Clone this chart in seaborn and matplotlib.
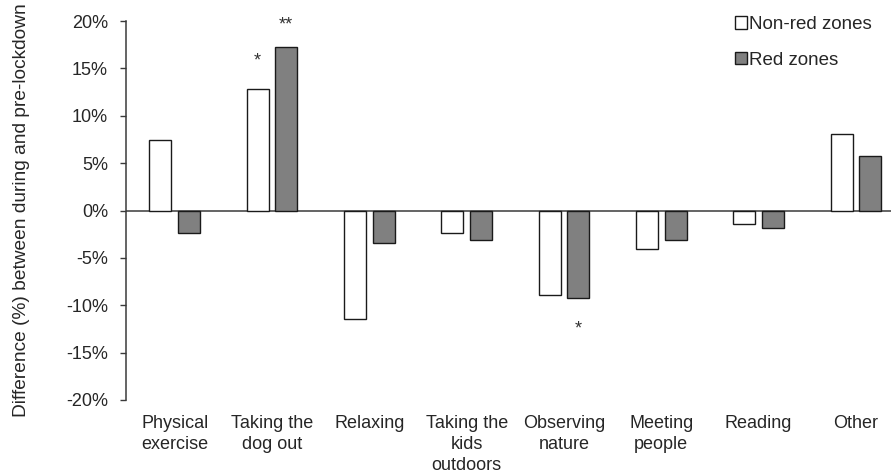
import matplotlib
matplotlib.use("Agg")
import matplotlib.pyplot as plt
import seaborn as sns
import pandas as pd
from matplotlib.patches import Patch
from matplotlib.ticker import FuncFormatter

categories = ["Physical\nexercise", "Taking the\ndog out", "Relaxing",
              "Taking the\nkids\noutdoors", "Observing\nnature", "Meeting\npeople",
              "Reading", "Other"]
non_red = [7.4, 12.8, -11.5, -2.4, -8.9, -4.1, -1.4, 8.1]
red = [-2.4, 17.3, -3.4, -3.1, -9.2, -3.1, -1.8, 5.8]
series_names = ["Non-red zones", "Red zones"]
# significance markers: (category index, series, label, distance from bar end in %)
stars = [(1, "Non-red zones", "*", 3.0), (1, "Red zones", "**", 2.3),
         (4, "Red zones", "*", 3.3)]

df = pd.DataFrame({
    "category": categories * 2,
    "zone": [series_names[0]] * len(categories) + [series_names[1]] * len(categories),
    "value": non_red + red,
})

sns.set_style("white")
plt.rcParams["font.family"] = ["Liberation Sans", "DejaVu Sans"]
text_color = "#262626"
fs = 13

fig = plt.figure(figsize=(8.91, 4.75), dpi=100)
ax = fig.add_axes([126 / 891, 75 / 475, 1 - 126 / 891, (400 - 21) / 475])

palette = {series_names[0]: "white", series_names[1]: "#808080"}
sns.barplot(data=df, x="category", y="value", hue="zone", palette=palette,
            width=0.588, gap=0.23, edgecolor="#1a1a1a", linewidth=1.0,
            legend=False, ax=ax, saturation=1)

ax.set_xlim(-0.5, 7.36)
ax.set_ylim(-20, 20)
ax.set_yticks(range(-20, 21, 5))
ax.yaxis.set_major_formatter(FuncFormatter(lambda v, p: f"{int(v)}%"))
ax.axhline(0, color="#3a3a3a", lw=1.1, zorder=0.5)

for s in ["top", "right", "bottom"]:
    ax.spines[s].set_visible(False)
ax.spines["left"].set_color("#3a3a3a")
ax.spines["left"].set_linewidth(1.1)

ax.tick_params(axis="y", which="major", left=True, length=4.5, width=1,
               color="#3a3a3a", labelsize=fs, labelcolor=text_color, pad=8.5)
ax.tick_params(axis="x", bottom=False, labelsize=fs, labelcolor=text_color, pad=7)
for lbl in ax.get_xticklabels():
    lbl.set_linespacing(1.33)
    lbl.set_verticalalignment("top")

ax.set_xlabel("")
ax.set_ylabel("Difference (%) between during and pre-lockdown", fontsize=13.8,
              color=text_color)
ax.yaxis.set_label_coords(-0.126, 0.5)

# significance stars placed beyond each bar end
offset = {series_names[0]: -0.147, series_names[1]: 0.147}
values = {series_names[0]: non_red, series_names[1]: red}
for idx, zone, mark, gap in stars:
    v = values[zone][idx]
    y = v + gap if v >= 0 else v - gap
    ax.text(idx + offset[zone], y, mark, ha="center", va="center",
            fontsize=13, color="#333333")

handles = [Patch(facecolor=palette[n], edgecolor="#1a1a1a", linewidth=1.0, label=n)
           for n in series_names]
leg = ax.legend(handles=handles, loc="upper left", frameon=False, fontsize=13.5,
                handlelength=0.65, handleheight=0.65, handletextpad=0.12,
                labelspacing=1.0, borderaxespad=0.0, borderpad=0.0)
leg.set_bbox_to_anchor((735 / 891, 1 - 16 / 475), transform=fig.transFigure)
for t in leg.get_texts():
    t.set_color(text_color)

fig.savefig("out.png", dpi=100)
